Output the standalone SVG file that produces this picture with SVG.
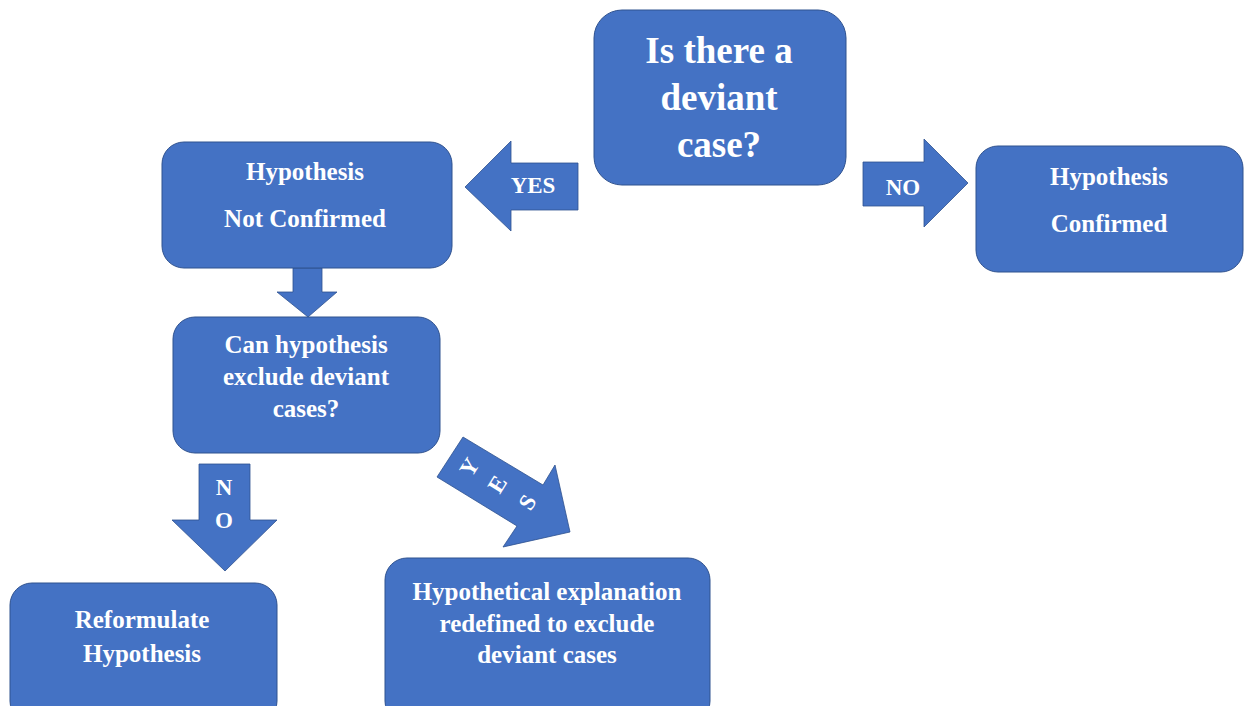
<svg xmlns="http://www.w3.org/2000/svg" width="1246" height="706" viewBox="0 0 1246 706">
<style>
.box{fill:#4472C4;stroke:#2F528F;stroke-width:1}
.arr{fill:#4472C4;stroke:#2F528F;stroke-width:0.8}
text{font-family:"Liberation Serif","Times New Roman",serif;font-weight:bold;fill:#FFFFFF;text-anchor:middle}
.big{font-size:37px}
.mid{font-size:25px}
.sm{font-size:23px}
</style>
<rect width="1246" height="706" fill="#FFFFFF"/>
<g id="connectors">
<polygon class="arr" points="578,163 511,163 511,141 465,187 511,231 511,210 578,210"/>
<polygon class="arr" points="863,162 924,162 924,139 968,183 924,227 924,206 863,206"/>
<polygon class="arr" points="293,268 322,268 322,292 337,292 308,317 277,292 293,292"/>
<polygon class="arr" points="199,464 250,464 250,520 277,520 225,571 172,520 199,520"/>
<polygon class="arr" points="463,437 543,485 555,465 570,532 503,547 517,526 437,477"/>
<text class="sm" x="533" y="193">YES</text>
<text class="sm" x="903" y="195">NO</text>
<text class="sm" x="224" y="495">N</text>
<text class="sm" x="224" y="528">O</text>
<text class="sm" transform="rotate(-58 469 467)" x="469" y="475">Y</text>
<text class="sm" transform="rotate(-58 497 484)" x="497" y="492">E</text>
<text class="sm" transform="rotate(-58 527 502)" x="527" y="510">S</text>
</g>
<g id="deviant-case">
<rect class="box" x="594" y="10" width="252" height="175" rx="28"/>
<text class="big" x="719" y="63">Is there a</text>
<text class="big" x="719" y="110">deviant</text>
<text class="big" x="719" y="157">case?</text>
</g>
<g id="not-confirmed">
<rect class="box" x="162" y="142" width="290" height="126" rx="22"/>
<text class="mid" x="305" y="180">Hypothesis</text>
<text class="mid" x="305" y="227">Not Confirmed</text>
</g>
<g id="confirmed">
<rect class="box" x="976" y="146" width="267" height="126" rx="22"/>
<text class="mid" x="1109" y="185">Hypothesis</text>
<text class="mid" x="1109" y="232">Confirmed</text>
</g>
<g id="can-exclude">
<rect class="box" x="173" y="317" width="267" height="136" rx="22"/>
<text class="mid" x="306" y="353">Can hypothesis</text>
<text class="mid" x="306" y="385">exclude deviant</text>
<text class="mid" x="306" y="417">cases?</text>
</g>
<g id="reformulate">
<rect class="box" x="10" y="583" width="267" height="140" rx="22"/>
<text class="mid" x="142" y="628">Reformulate</text>
<text class="mid" x="142" y="662">Hypothesis</text>
</g>
<g id="redefined">
<rect class="box" x="385" y="558" width="325" height="165" rx="22"/>
<text class="mid" x="547" y="600">Hypothetical explanation</text>
<text class="mid" x="547" y="632">redefined to exclude</text>
<text class="mid" x="547" y="663">deviant cases</text>
</g>
</svg>
